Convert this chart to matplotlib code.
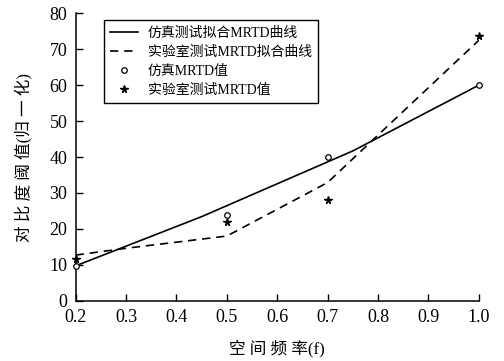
import matplotlib
matplotlib.use("Agg")
import matplotlib.pyplot as plt

# fitted curves
sim_fit_x = [0.2, 0.45, 0.75, 1.0]
sim_fit_y = [9.7, 23.4, 41.7, 60.0]
lab_fit_x = [0.2, 0.3, 0.5, 0.7, 1.0]
lab_fit_y = [12.7, 14.6, 18.0, 32.9, 72.5]

# measured points
freq = [0.2, 0.5, 0.7, 1.0]
sim_mrtd = [9.7, 23.9, 40.1, 60.0]
lab_mrtd = [11.5, 22.0, 28.0, 73.7]

xticks = [0.2, 0.3, 0.4, 0.5, 0.6, 0.7, 0.8, 0.9, 1.0]
yticks = [0, 10, 20, 30, 40, 50, 60, 70, 80]

plt.rcParams["font.family"] = ["Liberation Serif", "Noto Sans CJK SC"]

fig = plt.figure(figsize=(5.04, 3.61), dpi=100)
ax = fig.add_axes([0.150, 0.167, 0.800, 0.796])

ax.plot(sim_fit_x, sim_fit_y, "k-", lw=1.2, label="仿真测试拟合MRTD曲线")
ax.plot(lab_fit_x, lab_fit_y, "k--", lw=1.2, dashes=(5, 3.5), label="实验室测试MRTD拟合曲线")
ax.plot(freq, sim_mrtd, "o", mfc="white", mec="k", mew=0.9, ms=4, ls="none",
        label="仿真MRTD值", clip_on=False, zorder=4)
ax.plot(freq, lab_mrtd, "*", color="k", ms=5.5, ls="none",
        label="实验室测试MRTD值", clip_on=False, zorder=4)

ax.set_xlim(0.2, 1.0)
ax.set_ylim(0, 80)
ax.set_xticks(xticks, [f"{t:.1f}" for t in xticks])
ax.set_yticks(yticks)
ax.tick_params(direction="in", length=5, width=1, labelsize=13, pad=6)
for s in ["top", "right"]:
    ax.spines[s].set_visible(False)
for s in ["left", "bottom"]:
    ax.spines[s].set_linewidth(1.1)

ax.set_xlabel("空 间 频 率(f)", fontsize=12, labelpad=10)
ax.set_ylabel("对 比 度 阈 值(归 一 化)", fontsize=12, labelpad=12)

leg = ax.legend(loc="upper left", bbox_to_anchor=(0.053, 1.0), fontsize=10,
                frameon=True, fancybox=False, edgecolor="k", framealpha=1,
                handlelength=2.0, borderpad=0.45, labelspacing=0.42,
                handletextpad=0.7)
leg.get_frame().set_linewidth(1.0)

fig.savefig("out.png", dpi=100)
